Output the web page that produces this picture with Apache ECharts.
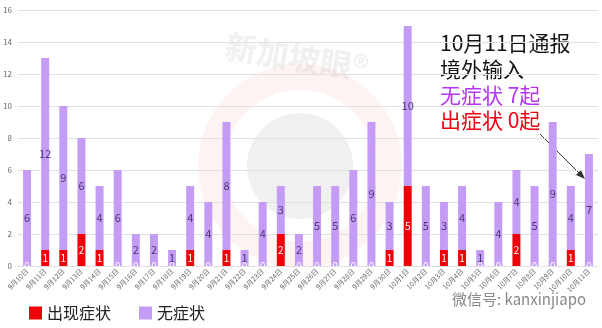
<!DOCTYPE html>
<html><head><meta charset="utf-8">
<script src="https://cdn.jsdelivr.net/npm/echarts@6/dist/echarts.min.js"></script>
<style>html,body{margin:0;padding:0;background:#fff}#c{width:602px;height:328px}</style>
</head><body><div id="c"></div>
<script>
var categories = ['9月10日','9月11日','9月12日','9月13日','9月14日','9月15日','9月16日','9月17日','9月18日','9月19日','9月20日','9月21日','9月22日','9月23日','9月24日','9月25日','9月26日','9月27日','9月28日','9月29日','9月30日','10月1日','10月2日','10月3日','10月4日','10月5日','10月6日','10月7日','10月8日','10月9日','10月10日','10月11日'];
var symptomatic = [0,1,1,2,1,0,0,0,0,1,0,1,0,0,2,0,0,0,0,0,1,5,0,1,1,0,0,2,0,0,1,0];
var asymptomatic = [6,12,9,6,4,6,2,2,1,4,4,8,1,4,3,2,5,5,6,9,3,10,5,3,4,1,4,4,5,9,4,7];
var yTicks = {min:0, max:16, interval:2};

var FONT = '"Noto Sans CJK SC", "Noto Sans", sans-serif';
var chart = echarts.init(document.getElementById('c'));
chart.setOption({
  animation:false,
  textStyle:{fontFamily:FONT},
  grid:{left:18,right:4,top:10,bottom:62,containLabel:false},
  legend:{
    left:24, top:300, itemWidth:13, itemHeight:13, itemGap:28,
    icon:'rect',
    textStyle:{fontSize:16, color:'#222', fontFamily:FONT},
    data:['出现症状','无症状']
  },
  xAxis:{
    type:'category', data:categories,
    axisLine:{show:true, lineStyle:{color:'#e0e0e0'}},
    axisTick:{show:false},
    axisLabel:{rotate:45, fontSize:7, color:'#666', margin:4, interval:0}
  },
  yAxis:{
    type:'value', min:yTicks.min, max:yTicks.max, interval:yTicks.interval,
    axisLine:{show:false}, axisTick:{show:false},
    axisLabel:{fontSize:8, color:'#666', margin:6},
    splitLine:{lineStyle:{color:'#e0e0e0', width:1}}
  },
  series:[
    {name:'出现症状', type:'bar', stack:'a', data:symptomatic, barWidth:'44%',
     itemStyle:{color:'#f00008'},
     label:{show:true, position:'inside', color:'#fff', fontSize:10}},
    {name:'无症状', type:'bar', stack:'a', data:asymptomatic, barWidth:'44%',
     itemStyle:{color:'#c49cf6'},
     label:{show:true, position:'inside', color:'#4a3670', fontSize:11}}
  ],
  graphic:[
    {type:'ring', shape:{cx:300, cy:166, r:102, r0:76}, style:{fill:'rgba(240,90,90,0.07)'}, z:-10, silent:true},
    {type:'circle', shape:{cx:300, cy:166, r:53}, style:{fill:'rgba(140,140,140,0.13)'}, z:-10, silent:true},
    {type:'text', x:228, y:30, rotation:-0.16, style:{text:'新加坡眼®', font:'bold 32px '+FONT, fill:'rgba(160,160,160,0.16)'}, z:-10, silent:true},
    {type:'text', x:440, y:33, style:{text:'10月11日通报', font:'21px '+FONT, fill:'#111'}},
    {type:'text', x:440, y:59, style:{text:'境外输入', font:'21px '+FONT, fill:'#111'}},
    {type:'text', x:440, y:85, style:{text:'无症状 7起', font:'21px '+FONT, fill:'#b536f2'}},
    {type:'text', x:440, y:110, style:{text:'出症状 0起', font:'21px '+FONT, fill:'#f00010'}},
    {type:'line', shape:{x1:540, y1:134, x2:584, y2:178}, style:{stroke:'#333', lineWidth:1}},
    {type:'polygon', shape:{points:[[585,179],[576,175],[581,170]]}, style:{fill:'#333'}},
    {type:'text', x:452, y:292, style:{text:'微信号: kanxinjiapo', font:'15px '+FONT, fill:'#888'}}
  ]
});
</script></body></html>
